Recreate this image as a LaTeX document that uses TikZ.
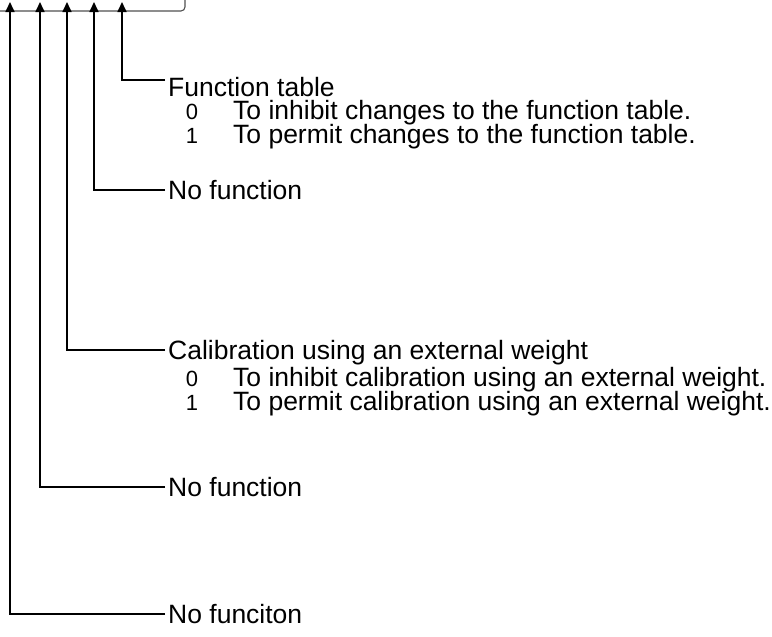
\documentclass[tikz,border=0pt]{standalone}
\usepackage{fontspec}
\setmainfont{Liberation Sans}
\usetikzlibrary{arrows.meta,positioning}
\definecolor{frame}{HTML}{505050}
\definecolor{ink}{HTML}{000000}

\begin{document}
\begin{tikzpicture}[x=1pt,y=-1pt,
    fieldtext/.style={inner xsep=3pt, inner ysep=0pt, text height=19pt, text depth=0pt,
        anchor=west, font=\fontsize{26.5}{28}\selectfont},
    bitval/.style={inner sep=0pt, anchor=base, font=\fontsize{22}{24}\selectfont},
    bitline/.style={draw=ink, line width=1.7pt, -{Triangle[width=9pt,length=10pt]}}
]
    \useasboundingbox (0,0) rectangle (772,637);

    % bottom edge of the register box
    \draw[frame, line width=1.1pt, rounded corners=4pt] (-2,11) -- (185,11) -- (185,-2);

    % arrow tips on the box
    \coordinate (tipnfc) at (10,2);
    \coordinate (tipnfb) at (40,2);
    \coordinate (tipcal) at (67,2);
    \coordinate (tipnfa) at (94,2);
    \coordinate (tipft)  at (122,2);

    % function table
    \node[fieldtext] (ft) at (165,87) {Function table};
    \node[fieldtext] (ft0txt) at (230,110) {To inhibit changes to the function table.};
    \node[bitval] (ft0) at (ft0txt.base west -| 192,0) {0};
    \node[fieldtext] (ft1txt) at (230,134) {To permit changes to the function table.};
    \node[bitval] (ft1) at (ft1txt.base west -| 192,0) {1};
    \draw[bitline] ([yshift=7pt]ft.west) -| (tipft);

    % no function
    \node[fieldtext] (nfa) at (165,190) {No function};
    \draw[bitline] (nfa.west) -| (tipnfa);

    % external calibration
    \node[fieldtext] (cal) at (165,350) {Calibration using an external weight};
    \node[fieldtext] (cal0txt) at (230,377) {To inhibit calibration using an external weight.};
    \node[bitval] (cal0) at (cal0txt.base west -| 192,0) {0};
    \node[fieldtext] (cal1txt) at (230,401) {To permit calibration using an external weight.};
    \node[bitval] (cal1) at (cal1txt.base west -| 192,0) {1};
    \draw[bitline] (cal.west) -| (tipcal);

    % no function
    \node[fieldtext] (nfb) at (165,487) {No function};
    \draw[bitline] (nfb.west) -| (tipnfb);

    % no function
    \node[fieldtext] (nfc) at (165,614) {No funciton};
    \draw[bitline] (nfc.west) -| (tipnfc);
\end{tikzpicture}
\end{document}
